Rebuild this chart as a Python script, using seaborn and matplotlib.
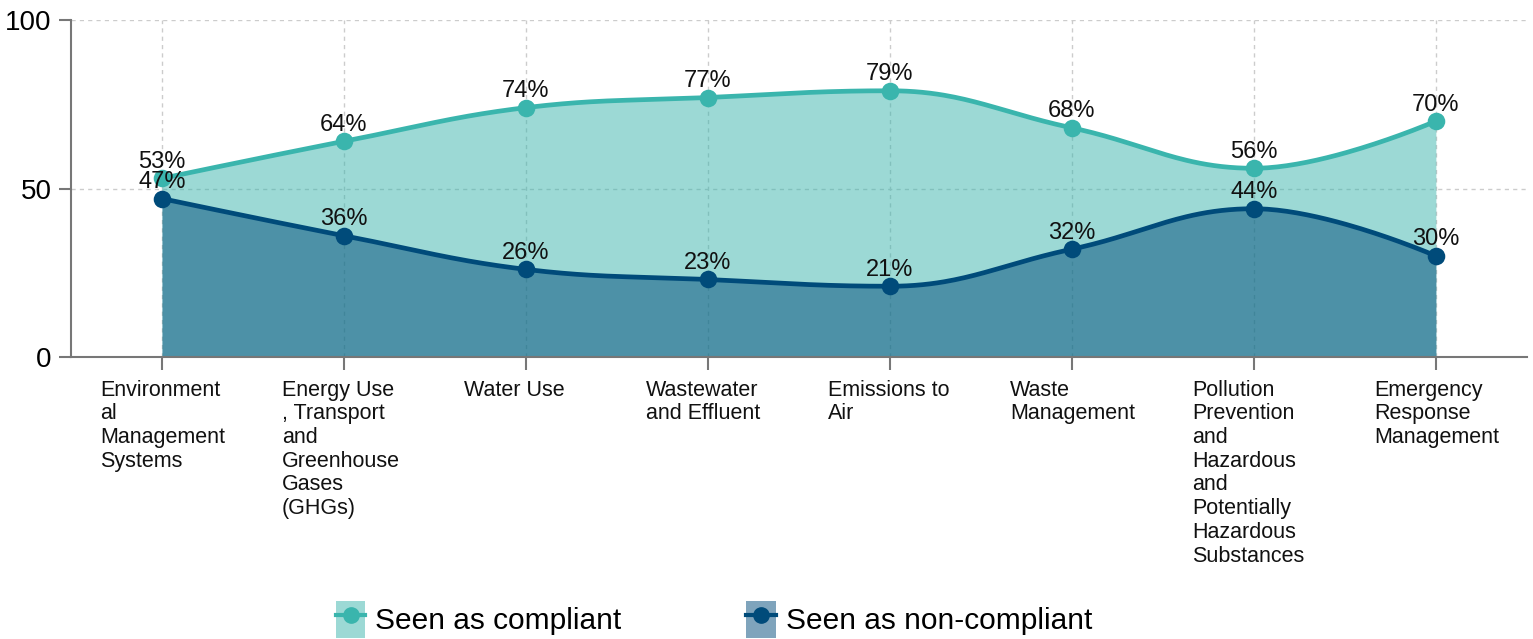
import numpy as np
import pandas as pd
import seaborn as sns
import matplotlib.pyplot as plt
import matplotlib.transforms as mtransforms
from matplotlib.patches import Patch
from matplotlib.lines import Line2D
from matplotlib.legend_handler import HandlerTuple

categories = ['Environment\nal\nManagement\nSystems',
              'Energy Use\n, Transport\nand\nGreenhouse\nGases\n(GHGs)',
              'Water Use',
              'Wastewater\nand Effluent',
              'Emissions to\nAir',
              'Waste\nManagement',
              'Pollution\nPrevention\nand\nHazardous\nand\nPotentially\nHazardous\nSubstances',
              'Emergency\nResponse\nManagement']
compliant = [53, 64, 74, 77, 79, 68, 56, 70]
non_compliant = [47, 36, 26, 23, 21, 32, 44, 30]
series_names = ['Seen as compliant', 'Seen as non-compliant']
y_ticks = [0, 50, 100]

c_teal = '#3ab5ad'
c_navy = '#004b7a'


def spline_curve(x, y, n=50, smoothing=1.5):
    # bezier spline with control points on a line through each point,
    # flattened at local extremes
    x = np.asarray(x, float)
    y = np.asarray(y, float)
    k = len(x)
    lx, ly = x.copy(), y.copy()
    rx, ry = x.copy(), y.copy()
    d = smoothing + 1
    for i in range(1, k - 1):
        lcx = (smoothing * x[i] + x[i - 1]) / d
        lcy = (smoothing * y[i] + y[i - 1]) / d
        rcx = (smoothing * x[i] + x[i + 1]) / d
        rcy = (smoothing * y[i] + y[i + 1]) / d
        corr = (rcy - lcy) * (rcx - x[i]) / (rcx - lcx) + y[i] - rcy
        lcy += corr
        rcy += corr
        if lcy > y[i - 1] and lcy > y[i]:
            lcy = max(y[i - 1], y[i]); rcy = 2 * y[i] - lcy
        elif lcy < y[i - 1] and lcy < y[i]:
            lcy = min(y[i - 1], y[i]); rcy = 2 * y[i] - lcy
        if rcy > y[i + 1] and rcy > y[i]:
            rcy = max(y[i + 1], y[i]); lcy = 2 * y[i] - rcy
        elif rcy < y[i + 1] and rcy < y[i]:
            rcy = min(y[i + 1], y[i]); lcy = 2 * y[i] - rcy
        lx[i], ly[i], rx[i], ry[i] = lcx, lcy, rcx, rcy
    xs, ys = [], []
    for i in range(k - 1):
        t = np.linspace(0, 1, n, endpoint=(i == k - 2))
        b0, b1, b2, b3 = (1 - t)**3, 3 * t * (1 - t)**2, 3 * t**2 * (1 - t), t**3
        xs.append(b0 * x[i] + b1 * rx[i] + b2 * lx[i + 1] + b3 * x[i + 1])
        ys.append(b0 * y[i] + b1 * ry[i] + b2 * ly[i + 1] + b3 * y[i + 1])
    return np.concatenate(xs), np.concatenate(ys)


idx = np.arange(len(categories))
df = pd.DataFrame({'idx': idx, 'compliant': compliant, 'non_compliant': non_compliant})

plt.rcParams['font.family'] = ['Liberation Sans', 'DejaVu Sans']
fig = plt.figure(figsize=(15.33, 6.39), dpi=100)
ax = fig.add_axes([0.0463, 0.4413, 0.9497, 0.5274])

for col, color in [('compliant', c_teal), ('non_compliant', c_navy)]:
    xs, ys = spline_curve(df['idx'], df[col])
    ax.fill_between(xs, 0, ys, color=color, alpha=0.5, lw=0, zorder=2)
    sns.lineplot(x=xs, y=ys, ax=ax, color=color, lw=3.4, zorder=3, sort=False)
    sns.scatterplot(data=df, x='idx', y=col, ax=ax, color=color, s=160, linewidth=0, zorder=4)
    for xi, v in zip(df['idx'], df[col]):
        ax.annotate(f'{v}%', (xi, v), xytext=(0, 4), textcoords='offset points',
                    ha='center', va='bottom', fontsize=17, color='#111111', zorder=5)

ax.set_xlim(-0.5, 7.5)
ax.set_ylim(0, 100)
ax.set_xlabel('')
ax.set_ylabel('')
ax.set_yticks(y_ticks)
ax.set_yticklabels([str(t) for t in y_ticks], fontsize=20)
ax.set_xticks(idx)
ax.set_xticklabels([])

# category labels, left aligned in a box starting ~62 px left of the tick
offset = mtransforms.ScaledTranslation(-0.62, -0.225, fig.dpi_scale_trans)
for xi, lab in zip(idx, categories):
    ax.text(xi, 0, lab, transform=ax.get_xaxis_transform() + offset,
            ha='left', va='top', fontsize=15.5, linespacing=1.17, color='#111111')

ax.tick_params(axis='y', length=9, width=1.5, color='#777777', pad=5)
ax.tick_params(axis='x', length=9, width=1.5, color='#777777')
ax.grid(True, color='#cccccc', ls=(0, (3, 3)), lw=1, zorder=0)
ax.set_axisbelow(True)
for side in ['top', 'right']:
    ax.spines[side].set_visible(False)
for side in ['left', 'bottom']:
    ax.spines[side].set_color('#777777')
    ax.spines[side].set_linewidth(1.5)

handles = []
for color in [c_teal, c_navy]:
    handles.append((Patch(facecolor=color, alpha=0.5, lw=0),
                    Line2D([0], [1], color=color, lw=3, marker='o', markersize=11)))
fig.legend(handles, series_names, handler_map={tuple: HandlerTuple(ndivide=1)},
           loc='lower center', bbox_to_anchor=(0.4657, -0.04), ncol=2, frameon=False,
           fontsize=21.5, handlelength=1.0, handleheight=1.5, columnspacing=4.17, handletextpad=0.33)

fig.savefig('out.png', dpi=100)
